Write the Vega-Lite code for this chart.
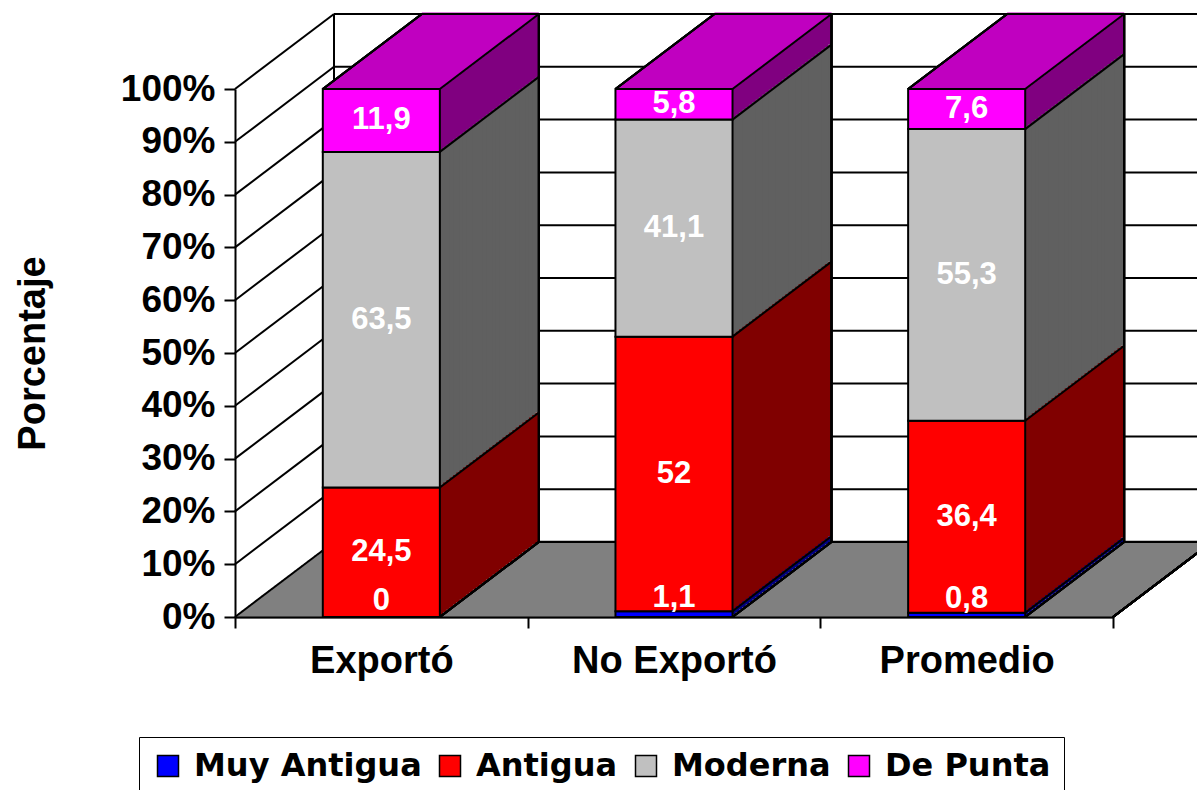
{
"$schema":"https://vega.github.io/schema/vega-lite/v6.json",
"width":878,"height":528,
"autosize":{"type":"none"},
"padding":{"left":235,"top":89,"right":84,"bottom":173},
"background":"white",
"config":{"view":{"stroke":null},"locale":{"number":{"decimal":",","thousands":".","grouping":[3],"currency":["","€"]}}},
"data":{"values":[
{"grupo":"Exportó","tipo":"Muy Antigua","orden":1,"valor":0},
{"grupo":"Exportó","tipo":"Antigua","orden":2,"valor":24.5},
{"grupo":"Exportó","tipo":"Moderna","orden":3,"valor":63.5},
{"grupo":"Exportó","tipo":"De Punta","orden":4,"valor":11.9},
{"grupo":"No Exportó","tipo":"Muy Antigua","orden":1,"valor":1.1},
{"grupo":"No Exportó","tipo":"Antigua","orden":2,"valor":52},
{"grupo":"No Exportó","tipo":"Moderna","orden":3,"valor":41.1},
{"grupo":"No Exportó","tipo":"De Punta","orden":4,"valor":5.8},
{"grupo":"Promedio","tipo":"Muy Antigua","orden":1,"valor":0.8},
{"grupo":"Promedio","tipo":"Antigua","orden":2,"valor":36.4},
{"grupo":"Promedio","tipo":"Moderna","orden":3,"valor":55.3},
{"grupo":"Promedio","tipo":"De Punta","orden":4,"valor":7.6}
]},
"transform":[{"stack":"valor","groupby":["grupo"],"sort":[{"field":"orden"}],"offset":"normalize","as":["y0","y1"]}],
"layer":[
{"mark":{"type":"bar","width":{"band":0.4},"opacity":0,"stroke":"black","strokeWidth":1.5},
 "encoding":{
  "x":{"field":"grupo","type":"nominal","scale":{"paddingInner":0,"paddingOuter":0},
   "axis":{"title":null,"labelAngle":0,"labelLimit":400,"tickBand":"extent","domainColor":"black","domainWidth":2,"tickColor":"black","tickWidth":2,"tickSize":11,"labelFont":"Liberation Sans","labelFontSize":38,"labelFontWeight":"bold","labelColor":"black","labelPadding":14,"zindex":1}},
  "y":{"field":"y1","type":"quantitative","scale":{"domain":[0,1],"nice":false},
   "axis":{"title":"Porcentaje","format":".0%","values":[0,0.1,0.2,0.3,0.4,0.5,0.6,0.7,0.8,0.9,1],"grid":false,"domainColor":"black","domainWidth":2,"tickColor":"black","tickWidth":2,"tickSize":11,"labelFont":"Liberation Sans","labelFontSize":37,"labelFontWeight":"bold","labelColor":"black","labelPadding":9,"titleFont":"Liberation Sans","titleFontSize":38,"titleFontWeight":"bold","titleColor":"black","titlePadding":68,"zindex":1}},
  "y2":{"field":"y0"},
  "color":{"field":"tipo","type":"nominal","scale":{"domain":["Muy Antigua","Antigua","Moderna","De Punta"],"range":["#0000FF","#FF0000","#C0C0C0","#FF00FF"]},
   "legend":{"orient":"none","legendX":-96,"legendY":648,"direction":"horizontal","columns":4,"title":null,"symbolType":"square","symbolSize":441,"symbolOpacity":1,"symbolStrokeColor":"black","symbolStrokeWidth":1.5,"labelFont":"DejaVu Sans","labelFontWeight":"bold","labelFontSize":32,"labelColor":"black","labelLimit":400,"labelOffset":10,"columnPadding":12,"padding":13,"strokeColor":"black","fillColor":"white"}}
 }},
{"data":{"values":[{"f":0}]},
 "encoding":{"x":{"datum":"Exportó","bandPosition":0},"x2":{"datum":"Promedio","bandPosition":1},"y":{"datum":0,"type":"quantitative"}},
 "layer":[
{"mark":{"type":"rule","color":"#808080","strokeWidth":3,"xOffset":0,"x2Offset":0,"yOffset":0}},
{"mark":{"type":"rule","color":"#808080","strokeWidth":3,"xOffset":3.3,"x2Offset":3.3,"yOffset":-2.5}},
{"mark":{"type":"rule","color":"#808080","strokeWidth":3,"xOffset":6.6,"x2Offset":6.6,"yOffset":-5}},
{"mark":{"type":"rule","color":"#808080","strokeWidth":3,"xOffset":9.9,"x2Offset":9.9,"yOffset":-7.5}},
{"mark":{"type":"rule","color":"#808080","strokeWidth":3,"xOffset":13.2,"x2Offset":13.2,"yOffset":-10}},
{"mark":{"type":"rule","color":"#808080","strokeWidth":3,"xOffset":16.5,"x2Offset":16.5,"yOffset":-12.5}},
{"mark":{"type":"rule","color":"#808080","strokeWidth":3,"xOffset":19.8,"x2Offset":19.8,"yOffset":-15}},
{"mark":{"type":"rule","color":"#808080","strokeWidth":3,"xOffset":23.1,"x2Offset":23.1,"yOffset":-17.5}},
{"mark":{"type":"rule","color":"#808080","strokeWidth":3,"xOffset":26.4,"x2Offset":26.4,"yOffset":-20}},
{"mark":{"type":"rule","color":"#808080","strokeWidth":3,"xOffset":29.7,"x2Offset":29.7,"yOffset":-22.5}},
{"mark":{"type":"rule","color":"#808080","strokeWidth":3,"xOffset":33,"x2Offset":33,"yOffset":-25}},
{"mark":{"type":"rule","color":"#808080","strokeWidth":3,"xOffset":36.3,"x2Offset":36.3,"yOffset":-27.5}},
{"mark":{"type":"rule","color":"#808080","strokeWidth":3,"xOffset":39.6,"x2Offset":39.6,"yOffset":-30}},
{"mark":{"type":"rule","color":"#808080","strokeWidth":3,"xOffset":42.9,"x2Offset":42.9,"yOffset":-32.5}},
{"mark":{"type":"rule","color":"#808080","strokeWidth":3,"xOffset":46.2,"x2Offset":46.2,"yOffset":-35}},
{"mark":{"type":"rule","color":"#808080","strokeWidth":3,"xOffset":49.5,"x2Offset":49.5,"yOffset":-37.5}},
{"mark":{"type":"rule","color":"#808080","strokeWidth":3,"xOffset":52.8,"x2Offset":52.8,"yOffset":-40}},
{"mark":{"type":"rule","color":"#808080","strokeWidth":3,"xOffset":56.1,"x2Offset":56.1,"yOffset":-42.5}},
{"mark":{"type":"rule","color":"#808080","strokeWidth":3,"xOffset":59.4,"x2Offset":59.4,"yOffset":-45}},
{"mark":{"type":"rule","color":"#808080","strokeWidth":3,"xOffset":62.7,"x2Offset":62.7,"yOffset":-47.5}},
{"mark":{"type":"rule","color":"#808080","strokeWidth":3,"xOffset":66,"x2Offset":66,"yOffset":-50}},
{"mark":{"type":"rule","color":"#808080","strokeWidth":3,"xOffset":69.3,"x2Offset":69.3,"yOffset":-52.5}},
{"mark":{"type":"rule","color":"#808080","strokeWidth":3,"xOffset":72.6,"x2Offset":72.6,"yOffset":-55}},
{"mark":{"type":"rule","color":"#808080","strokeWidth":3,"xOffset":75.9,"x2Offset":75.9,"yOffset":-57.5}},
{"mark":{"type":"rule","color":"#808080","strokeWidth":3,"xOffset":79.2,"x2Offset":79.2,"yOffset":-60}},
{"mark":{"type":"rule","color":"#808080","strokeWidth":3,"xOffset":82.5,"x2Offset":82.5,"yOffset":-62.5}},
{"mark":{"type":"rule","color":"#808080","strokeWidth":3,"xOffset":85.8,"x2Offset":85.8,"yOffset":-65}},
{"mark":{"type":"rule","color":"#808080","strokeWidth":3,"xOffset":89.1,"x2Offset":89.1,"yOffset":-67.5}},
{"mark":{"type":"rule","color":"#808080","strokeWidth":3,"xOffset":92.4,"x2Offset":92.4,"yOffset":-70}},
{"mark":{"type":"rule","color":"#808080","strokeWidth":3,"xOffset":95.7,"x2Offset":95.7,"yOffset":-72.5}},
{"mark":{"type":"rule","color":"#808080","strokeWidth":3,"xOffset":99,"x2Offset":99,"yOffset":-75}}
 ]},
{"data":{"values":[{"v":0},{"v":0.1},{"v":0.2},{"v":0.3},{"v":0.4},{"v":0.5},{"v":0.6},{"v":0.7},{"v":0.8},{"v":0.9},{"v":1}]},
 "layer":[
 {"mark":{"type":"rule","color":"black","strokeWidth":2,"xOffset":99,"x2Offset":99,"yOffset":-75},
  "encoding":{"x":{"datum":"Exportó","bandPosition":0},"x2":{"datum":"Promedio","bandPosition":1},"y":{"field":"v","type":"quantitative"}}},
 {"mark":{"type":"rule","color":"black","strokeWidth":2,"x2Offset":99,"y2Offset":-75},
  "encoding":{"x":{"datum":"Exportó","bandPosition":0},"x2":{"datum":"Exportó","bandPosition":0},"y":{"field":"v","type":"quantitative"},"y2":{"field":"v"}}},
 {"mark":{"type":"rule","color":"black","strokeWidth":2,"xOffset":99,"yOffset":-75,"y2Offset":-75},
  "encoding":{"x":{"datum":"Exportó","bandPosition":0},"y":{"datum":0,"type":"quantitative"},"y2":{"datum":1}}},
 {"mark":{"type":"rule","color":"black","strokeWidth":2,"x2Offset":99,"y2Offset":-75},
  "encoding":{"x":{"datum":"Promedio","bandPosition":1},"x2":{"datum":"Promedio","bandPosition":1},"y":{"datum":0,"type":"quantitative"},"y2":{"datum":0}}}
 ]},
{"encoding":{"x":{"field":"grupo","type":"nominal"},"y":{"field":"y1","type":"quantitative"},"y2":{"field":"y0"},
  "fill":{"field":"tipo","type":"nominal","scale":{"domain":["Muy Antigua","Antigua","Moderna","De Punta"],"range":["#000080","#800000","#606060","#800080"]},"legend":null}},
 "layer":[
{"mark":{"type":"bar","width":{"band":0.4},"xOffset":99,"yOffset":-75,"y2Offset":-75}},
{"mark":{"type":"bar","width":{"band":0.4},"xOffset":95.7,"yOffset":-72.5,"y2Offset":-72.5}},
{"mark":{"type":"bar","width":{"band":0.4},"xOffset":92.4,"yOffset":-70,"y2Offset":-70}},
{"mark":{"type":"bar","width":{"band":0.4},"xOffset":89.1,"yOffset":-67.5,"y2Offset":-67.5}},
{"mark":{"type":"bar","width":{"band":0.4},"xOffset":85.8,"yOffset":-65,"y2Offset":-65}},
{"mark":{"type":"bar","width":{"band":0.4},"xOffset":82.5,"yOffset":-62.5,"y2Offset":-62.5}},
{"mark":{"type":"bar","width":{"band":0.4},"xOffset":79.2,"yOffset":-60,"y2Offset":-60}},
{"mark":{"type":"bar","width":{"band":0.4},"xOffset":75.9,"yOffset":-57.5,"y2Offset":-57.5}},
{"mark":{"type":"bar","width":{"band":0.4},"xOffset":72.6,"yOffset":-55,"y2Offset":-55}},
{"mark":{"type":"bar","width":{"band":0.4},"xOffset":69.3,"yOffset":-52.5,"y2Offset":-52.5}},
{"mark":{"type":"bar","width":{"band":0.4},"xOffset":66,"yOffset":-50,"y2Offset":-50}},
{"mark":{"type":"bar","width":{"band":0.4},"xOffset":62.7,"yOffset":-47.5,"y2Offset":-47.5}},
{"mark":{"type":"bar","width":{"band":0.4},"xOffset":59.4,"yOffset":-45,"y2Offset":-45}},
{"mark":{"type":"bar","width":{"band":0.4},"xOffset":56.1,"yOffset":-42.5,"y2Offset":-42.5}},
{"mark":{"type":"bar","width":{"band":0.4},"xOffset":52.8,"yOffset":-40,"y2Offset":-40}},
{"mark":{"type":"bar","width":{"band":0.4},"xOffset":49.5,"yOffset":-37.5,"y2Offset":-37.5}},
{"mark":{"type":"bar","width":{"band":0.4},"xOffset":46.2,"yOffset":-35,"y2Offset":-35}},
{"mark":{"type":"bar","width":{"band":0.4},"xOffset":42.9,"yOffset":-32.5,"y2Offset":-32.5}},
{"mark":{"type":"bar","width":{"band":0.4},"xOffset":39.6,"yOffset":-30,"y2Offset":-30}},
{"mark":{"type":"bar","width":{"band":0.4},"xOffset":36.3,"yOffset":-27.5,"y2Offset":-27.5}},
{"mark":{"type":"bar","width":{"band":0.4},"xOffset":33,"yOffset":-25,"y2Offset":-25}},
{"mark":{"type":"bar","width":{"band":0.4},"xOffset":29.7,"yOffset":-22.5,"y2Offset":-22.5}},
{"mark":{"type":"bar","width":{"band":0.4},"xOffset":26.4,"yOffset":-20,"y2Offset":-20}},
{"mark":{"type":"bar","width":{"band":0.4},"xOffset":23.1,"yOffset":-17.5,"y2Offset":-17.5}},
{"mark":{"type":"bar","width":{"band":0.4},"xOffset":19.8,"yOffset":-15,"y2Offset":-15}},
{"mark":{"type":"bar","width":{"band":0.4},"xOffset":16.5,"yOffset":-12.5,"y2Offset":-12.5}},
{"mark":{"type":"bar","width":{"band":0.4},"xOffset":13.2,"yOffset":-10,"y2Offset":-10}},
{"mark":{"type":"bar","width":{"band":0.4},"xOffset":9.9,"yOffset":-7.5,"y2Offset":-7.5}},
{"mark":{"type":"bar","width":{"band":0.4},"xOffset":6.6,"yOffset":-5,"y2Offset":-5}},
{"mark":{"type":"bar","width":{"band":0.4},"xOffset":3.3,"yOffset":-2.5,"y2Offset":-2.5}}
 ]},
{"transform":[{"filter":"datum.tipo === 'De Punta'"}],
 "encoding":{"x":{"field":"grupo","type":"nominal"},"y":{"datum":1,"type":"quantitative"},"y2":{"datum":1}},
 "layer":[
{"mark":{"type":"bar","width":{"band":0.4},"fill":"#C000C0","stroke":"#C000C0","strokeWidth":3,"xOffset":99,"yOffset":-75,"y2Offset":-75}},
{"mark":{"type":"bar","width":{"band":0.4},"fill":"#C000C0","stroke":"#C000C0","strokeWidth":3,"xOffset":95.7,"yOffset":-72.5,"y2Offset":-72.5}},
{"mark":{"type":"bar","width":{"band":0.4},"fill":"#C000C0","stroke":"#C000C0","strokeWidth":3,"xOffset":92.4,"yOffset":-70,"y2Offset":-70}},
{"mark":{"type":"bar","width":{"band":0.4},"fill":"#C000C0","stroke":"#C000C0","strokeWidth":3,"xOffset":89.1,"yOffset":-67.5,"y2Offset":-67.5}},
{"mark":{"type":"bar","width":{"band":0.4},"fill":"#C000C0","stroke":"#C000C0","strokeWidth":3,"xOffset":85.8,"yOffset":-65,"y2Offset":-65}},
{"mark":{"type":"bar","width":{"band":0.4},"fill":"#C000C0","stroke":"#C000C0","strokeWidth":3,"xOffset":82.5,"yOffset":-62.5,"y2Offset":-62.5}},
{"mark":{"type":"bar","width":{"band":0.4},"fill":"#C000C0","stroke":"#C000C0","strokeWidth":3,"xOffset":79.2,"yOffset":-60,"y2Offset":-60}},
{"mark":{"type":"bar","width":{"band":0.4},"fill":"#C000C0","stroke":"#C000C0","strokeWidth":3,"xOffset":75.9,"yOffset":-57.5,"y2Offset":-57.5}},
{"mark":{"type":"bar","width":{"band":0.4},"fill":"#C000C0","stroke":"#C000C0","strokeWidth":3,"xOffset":72.6,"yOffset":-55,"y2Offset":-55}},
{"mark":{"type":"bar","width":{"band":0.4},"fill":"#C000C0","stroke":"#C000C0","strokeWidth":3,"xOffset":69.3,"yOffset":-52.5,"y2Offset":-52.5}},
{"mark":{"type":"bar","width":{"band":0.4},"fill":"#C000C0","stroke":"#C000C0","strokeWidth":3,"xOffset":66,"yOffset":-50,"y2Offset":-50}},
{"mark":{"type":"bar","width":{"band":0.4},"fill":"#C000C0","stroke":"#C000C0","strokeWidth":3,"xOffset":62.7,"yOffset":-47.5,"y2Offset":-47.5}},
{"mark":{"type":"bar","width":{"band":0.4},"fill":"#C000C0","stroke":"#C000C0","strokeWidth":3,"xOffset":59.4,"yOffset":-45,"y2Offset":-45}},
{"mark":{"type":"bar","width":{"band":0.4},"fill":"#C000C0","stroke":"#C000C0","strokeWidth":3,"xOffset":56.1,"yOffset":-42.5,"y2Offset":-42.5}},
{"mark":{"type":"bar","width":{"band":0.4},"fill":"#C000C0","stroke":"#C000C0","strokeWidth":3,"xOffset":52.8,"yOffset":-40,"y2Offset":-40}},
{"mark":{"type":"bar","width":{"band":0.4},"fill":"#C000C0","stroke":"#C000C0","strokeWidth":3,"xOffset":49.5,"yOffset":-37.5,"y2Offset":-37.5}},
{"mark":{"type":"bar","width":{"band":0.4},"fill":"#C000C0","stroke":"#C000C0","strokeWidth":3,"xOffset":46.2,"yOffset":-35,"y2Offset":-35}},
{"mark":{"type":"bar","width":{"band":0.4},"fill":"#C000C0","stroke":"#C000C0","strokeWidth":3,"xOffset":42.9,"yOffset":-32.5,"y2Offset":-32.5}},
{"mark":{"type":"bar","width":{"band":0.4},"fill":"#C000C0","stroke":"#C000C0","strokeWidth":3,"xOffset":39.6,"yOffset":-30,"y2Offset":-30}},
{"mark":{"type":"bar","width":{"band":0.4},"fill":"#C000C0","stroke":"#C000C0","strokeWidth":3,"xOffset":36.3,"yOffset":-27.5,"y2Offset":-27.5}},
{"mark":{"type":"bar","width":{"band":0.4},"fill":"#C000C0","stroke":"#C000C0","strokeWidth":3,"xOffset":33,"yOffset":-25,"y2Offset":-25}},
{"mark":{"type":"bar","width":{"band":0.4},"fill":"#C000C0","stroke":"#C000C0","strokeWidth":3,"xOffset":29.7,"yOffset":-22.5,"y2Offset":-22.5}},
{"mark":{"type":"bar","width":{"band":0.4},"fill":"#C000C0","stroke":"#C000C0","strokeWidth":3,"xOffset":26.4,"yOffset":-20,"y2Offset":-20}},
{"mark":{"type":"bar","width":{"band":0.4},"fill":"#C000C0","stroke":"#C000C0","strokeWidth":3,"xOffset":23.1,"yOffset":-17.5,"y2Offset":-17.5}},
{"mark":{"type":"bar","width":{"band":0.4},"fill":"#C000C0","stroke":"#C000C0","strokeWidth":3,"xOffset":19.8,"yOffset":-15,"y2Offset":-15}},
{"mark":{"type":"bar","width":{"band":0.4},"fill":"#C000C0","stroke":"#C000C0","strokeWidth":3,"xOffset":16.5,"yOffset":-12.5,"y2Offset":-12.5}},
{"mark":{"type":"bar","width":{"band":0.4},"fill":"#C000C0","stroke":"#C000C0","strokeWidth":3,"xOffset":13.2,"yOffset":-10,"y2Offset":-10}},
{"mark":{"type":"bar","width":{"band":0.4},"fill":"#C000C0","stroke":"#C000C0","strokeWidth":3,"xOffset":9.9,"yOffset":-7.5,"y2Offset":-7.5}},
{"mark":{"type":"bar","width":{"band":0.4},"fill":"#C000C0","stroke":"#C000C0","strokeWidth":3,"xOffset":6.6,"yOffset":-5,"y2Offset":-5}},
{"mark":{"type":"bar","width":{"band":0.4},"fill":"#C000C0","stroke":"#C000C0","strokeWidth":3,"xOffset":3.3,"yOffset":-2.5,"y2Offset":-2.5}}
 ]},
{"mark":{"type":"bar","width":{"band":0.4},"stroke":"black","strokeWidth":2},
 "encoding":{
  "x":{"field":"grupo","type":"nominal"},
  "y":{"field":"y1","type":"quantitative"},
  "y2":{"field":"y0"},
  "color":{"field":"tipo","type":"nominal","legend":null}
 }},
{"mark":{"type":"rule","color":"black","strokeWidth":2,"x2Offset":99,"y2Offset":-75},
 "encoding":{"x":{"field":"grupo","type":"nominal","bandPosition":0.7},"x2":{"field":"grupo","bandPosition":0.7},"y":{"field":"y1","type":"quantitative"},"y2":{"field":"y1"}}},
{"mark":{"type":"rule","color":"black","strokeWidth":2,"x2Offset":99,"y2Offset":-75},
 "encoding":{"x":{"field":"grupo","type":"nominal","bandPosition":0.7},"x2":{"field":"grupo","bandPosition":0.7},"y":{"datum":0,"type":"quantitative"},"y2":{"datum":0}}},
{"mark":{"type":"rule","color":"black","strokeWidth":2,"x2Offset":99,"y2Offset":-75},
 "encoding":{"x":{"field":"grupo","type":"nominal","bandPosition":0.3},"x2":{"field":"grupo","bandPosition":0.3},"y":{"datum":1,"type":"quantitative"},"y2":{"datum":1}}},
{"mark":{"type":"rule","color":"black","strokeWidth":2,"xOffset":99,"yOffset":-75,"y2Offset":-75},
 "encoding":{"x":{"field":"grupo","type":"nominal","bandPosition":0.7},"y":{"datum":0,"type":"quantitative"},"y2":{"datum":1}}},
{"mark":{"type":"rule","color":"black","strokeWidth":2,"xOffset":99,"x2Offset":99,"yOffset":-75,"y2Offset":-75},
 "encoding":{"x":{"field":"grupo","type":"nominal","bandPosition":0.3},"x2":{"field":"grupo","bandPosition":0.7},"y":{"datum":1,"type":"quantitative"},"y2":{"datum":1}}},
{"encoding":{"x":{"field":"grupo","type":"nominal"},"y":{"field":"valor","type":"quantitative","stack":"normalize","bandPosition":0.5},"detail":{"field":"tipo"},"order":{"field":"orden","type":"quantitative"}},
 "layer":[
 {"mark":{"type":"text","color":"white","font":"Liberation Sans","fontWeight":"bold","fontSize":31,"baseline":"middle"},
  "encoding":{"text":{"condition":{"test":"datum.tipo !== 'Muy Antigua'","field":"valor","type":"quantitative","format":".1~f"},"value":""}}},
 {"mark":{"type":"text","color":"white","font":"Liberation Sans","fontWeight":"bold","fontSize":31,"baseline":"middle","dy":-16},
  "encoding":{"text":{"condition":{"test":"datum.tipo === 'Muy Antigua'","field":"valor","type":"quantitative","format":".1~f"},"value":""}}}
 ]}
]
}
